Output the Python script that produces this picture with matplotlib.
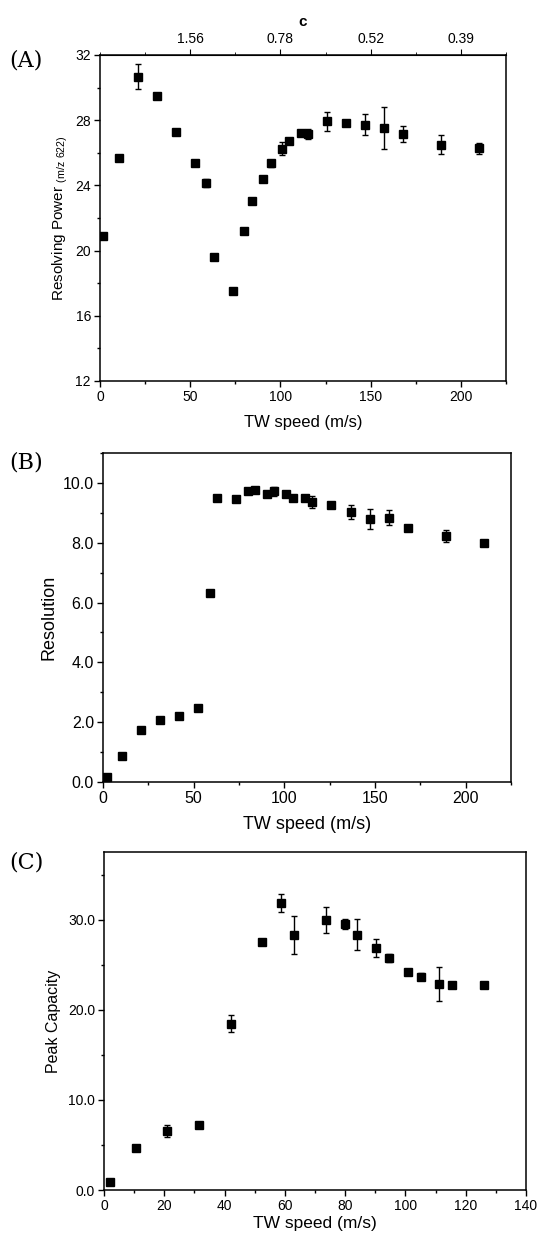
import matplotlib
matplotlib.use("Agg")
import matplotlib.pyplot as plt
from matplotlib.ticker import MultipleLocator, FormatStrFormatter

plt.rcParams['font.family'] = ['Liberation Sans', 'DejaVu Sans']

# panel A: resolving power vs TW speed
a_speed = [1.8, 10.5, 21.0, 31.5, 42.0, 52.5, 58.8, 63.0, 73.5, 79.8, 84.0, 90.3,
           94.5, 101.0, 105.0, 111.3, 115.5, 126.0, 136.5, 147.0, 157.5, 168.0, 189.0, 210.0]
a_rp = [20.9, 25.66, 30.67, 29.46, 27.30, 25.37, 24.15, 19.61, 17.50, 21.22, 23.04, 24.39,
        25.35, 26.24, 26.72, 27.21, 27.17, 27.93, 27.85, 27.73, 27.52, 27.15, 26.50, 26.27]
a_err = [0, 0, 0.78, 0, 0, 0, 0.25, 0, 0, 0, 0, 0.2,
         0.2, 0.4, 0, 0, 0.3, 0.57, 0, 0.63, 1.28, 0.5, 0.6, 0.35]
c_ticks = [50, 100, 150, 200]
c_labels = ['1.56', '0.78', '0.52', '0.39']

# panel B: resolution vs TW speed
b_speed = [2.1, 10.5, 21.0, 31.5, 42.0, 52.5, 58.8, 63.0, 73.5, 79.8, 84.0, 90.3,
           94.5, 100.8, 105.0, 111.3, 115.5, 126.0, 136.5, 147.0, 157.5, 168.0, 189.0, 210.0]
b_res = [0.17, 0.88, 1.73, 2.07, 2.22, 2.46, 6.32, 9.51, 9.45, 9.73, 9.77, 9.62,
         9.72, 9.62, 9.51, 9.51, 9.36, 9.27, 9.03, 8.79, 8.84, 8.49, 8.22, 7.99]
b_err = [0, 0, 0, 0, 0, 0, 0, 0, 0, 0, 0, 0.08,
         0.15, 0, 0, 0.08, 0.2, 0, 0.22, 0.33, 0.25, 0, 0.2, 0.1]

# panel C: peak capacity vs TW speed
c_speed = [2.1, 10.5, 21.0, 31.5, 42.0, 52.5, 58.8, 63.0, 73.5, 79.8, 84.0, 90.3,
           94.5, 100.8, 105.0, 111.3, 115.5, 126.0]
c_pc = [0.89, 4.70, 6.56, 7.19, 18.44, 27.56, 31.85, 28.30, 29.93, 29.48, 28.33, 26.89,
        25.74, 24.22, 23.67, 22.85, 22.70, 22.70]
c_err = [0, 0, 0.7, 0, 0.95, 0, 1.0, 2.1, 1.45, 0.55, 1.7, 1.0,
         0.4, 0, 0.4, 1.9, 0, 0]

W, H = 541, 1239
fig = plt.figure(figsize=(W / 100, H / 100), dpi=100)


def box(l, t, r, b):
    return [l / W, 1 - b / H, (r - l) / W, (b - t) / H]


def style(ax, fs):
    for s in ax.spines.values():
        s.set_linewidth(1.1)
    ax.tick_params(which='both', direction='out', right=False, top=False, width=1.0)
    ax.tick_params(which='major', length=4.5, labelsize=fs, pad=2)
    ax.tick_params(which='minor', length=2.5)


def points(ax, x, y, e):
    ax.errorbar(x, y, yerr=e, fmt='s', color='black', ms=5.5, mec='black',
                ecolor='black', elinewidth=1.0, capsize=2.5, capthick=1.0)


# (A)
axA = fig.add_axes(box(100, 55, 506, 381))
points(axA, a_speed, a_rp, a_err)
axA.set_xlim(0, 225)
axA.set_ylim(12, 32)
axA.xaxis.set_major_locator(MultipleLocator(50))
axA.xaxis.set_minor_locator(MultipleLocator(25))
axA.yaxis.set_major_locator(MultipleLocator(4))
axA.yaxis.set_minor_locator(MultipleLocator(2))
style(axA, 10)
axA.set_xlabel('TW speed (m/s)', fontsize=12, labelpad=8)
axA.set_ylabel(r'Resolving Power $_{\mathregular{(m/z\ 622)}}$', fontsize=11, labelpad=4)
top = axA.secondary_xaxis('top')
top.set_xticks(c_ticks, c_labels)
top.xaxis.set_minor_locator(MultipleLocator(25))
top.tick_params(which='major', direction='out', length=4.5, labelsize=10, pad=2)
top.tick_params(which='minor', direction='out', length=2.5)
top.set_xlabel('c', fontsize=11, fontweight='bold', labelpad=4)
fig.text(9 / W, 1 - 60 / H, '(A)', family='DejaVu Serif', fontsize=16, va='center')

# (B)
axB = fig.add_axes(box(103, 453, 511, 782))
points(axB, b_speed, b_res, b_err)
axB.set_xlim(0, 225)
axB.set_ylim(0, 11)
axB.xaxis.set_major_locator(MultipleLocator(50))
axB.xaxis.set_minor_locator(MultipleLocator(25))
axB.yaxis.set_major_locator(MultipleLocator(2))
axB.yaxis.set_minor_locator(MultipleLocator(1))
axB.yaxis.set_major_formatter(FormatStrFormatter('%.1f'))
style(axB, 11.5)
axB.set_xlabel('TW speed (m/s)', fontsize=13, labelpad=7)
axB.set_ylabel('Resolution', fontsize=13, labelpad=4)
fig.text(9 / W, 1 - 463 / H, '(B)', family='DejaVu Serif', fontsize=16, va='center')

# (C)
axC = fig.add_axes(box(104, 852, 526, 1190))
points(axC, c_speed, c_pc, c_err)
axC.set_xlim(0, 140)
axC.set_ylim(0, 37.5)
axC.xaxis.set_major_locator(MultipleLocator(20))
axC.xaxis.set_minor_locator(MultipleLocator(10))
axC.yaxis.set_major_locator(MultipleLocator(10))
axC.yaxis.set_minor_locator(MultipleLocator(5))
axC.yaxis.set_major_formatter(FormatStrFormatter('%.1f'))
style(axC, 10)
axC.set_xlabel('TW speed (m/s)', fontsize=12.5, labelpad=2)
axC.set_ylabel('Peak Capacity', fontsize=11.5, labelpad=5)
fig.text(9 / W, 1 - 863 / H, '(C)', family='DejaVu Serif', fontsize=16, va='center')

fig.savefig('out.png', dpi=100)
